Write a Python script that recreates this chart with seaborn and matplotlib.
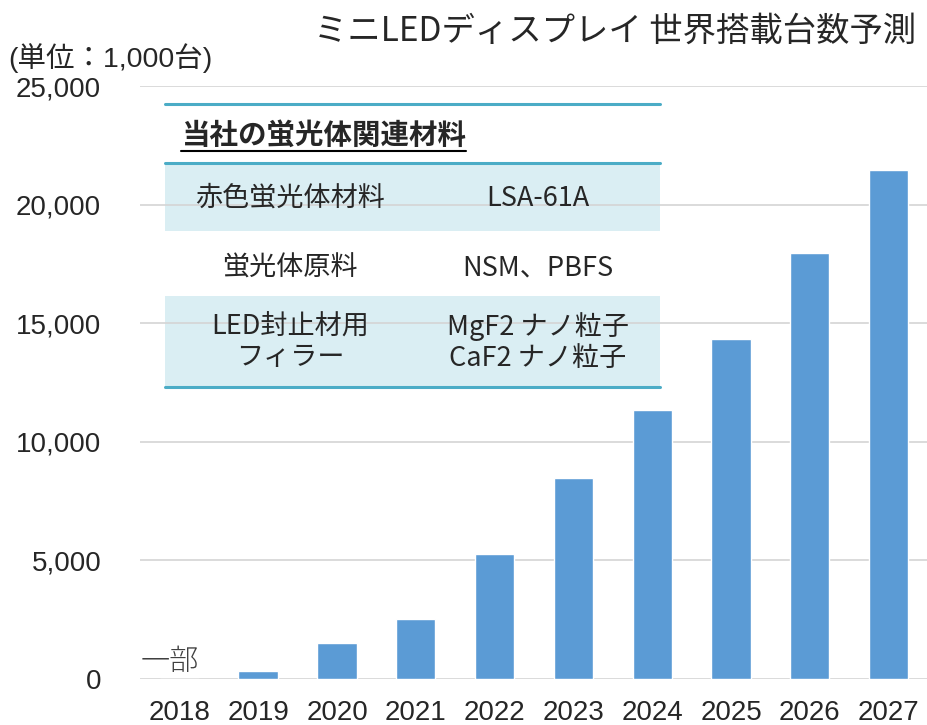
import matplotlib
matplotlib.use("Agg")
import matplotlib.pyplot as plt
from matplotlib.patches import Rectangle
import pandas as pd
import seaborn as sns

years = ["2018", "2019", "2020", "2021", "2022", "2023", "2024", "2025", "2026", "2027"]
units = [0, 350, 1500, 2530, 5270, 8470, 11340, 14330, 17950, 21450]
y_ticks = [0, 5000, 10000, 15000, 20000, 25000]

title = "ミニLEDディスプレイ 世界搭載台数予測"
unit_label = "(単位：1,000台)"
note_2018 = "一部"
table_header = "当社の蛍光体関連材料"
table_rows = [
    ("赤色蛍光体材料", "LSA-61A"),
    ("蛍光体原料", "NSM、PBFS"),
    ("LED封止材用\nフィラー", "MgF2 ナノ粒子\nCaF2 ナノ粒子"),
]

sns.set_theme(style="white")
plt.rcParams["font.family"] = ["Noto Sans CJK JP", "DejaVu Sans"]
num_font = ["Liberation Sans", "Noto Sans CJK JP"]

W, H = 928, 725
fig = plt.figure(figsize=(W / 100, H / 100), dpi=100)
ax = fig.add_axes([140 / W, 1 - 679 / H, 788 / W, 593 / H])
ax.patch.set_alpha(0)

df = pd.DataFrame({"year": years, "units": units})
sns.barplot(data=df, x="year", y="units", color="#5B9BD5", saturation=1,
            width=0.5, ax=ax, zorder=2)

ax.set_ylim(0, 25000)
ax.set_xlim(-0.5, len(years) - 0.5)
ax.set_yticks(y_ticks)
ax.set_yticklabels([f"{v:,}" for v in y_ticks], fontsize=20, family=num_font)
for lab in ax.get_xticklabels():
    lab.set_fontfamily(num_font)
    lab.set_fontsize(20)
ax.tick_params(axis="y", length=0, pad=28)
ax.tick_params(axis="x", length=0, pad=15)
ax.set_xlabel("")
ax.set_ylabel("")
ax.yaxis.grid(True, color="#D4D4D4", linewidth=1.2, zorder=0.5)
ax.set_axisbelow(True)
for s in ax.spines.values():
    s.set_visible(False)

ax.text(-0.12, 80, note_2018, fontsize=21, color="#404040",
        ha="center", va="bottom", fontweight="light", zorder=3)

# titles
fig.text(615 / W, 1 - 31 / H, title, fontsize=24, ha="center", va="center")
fig.text(8 / W, 1 - 58 / H, unit_label, fontsize=20.5, ha="left", va="center",
         family=num_font)


# table overlay, in pixel coordinates of the figure
def fx(px):
    return px / W


def fy(py):
    return 1 - py / H


tl, tr = 165, 660
for top, bot in [(163, 231), (296, 387)]:
    ax.add_patch(Rectangle((fx(tl), fy(bot)), fx(tr) - fx(tl), fy(top) - fy(bot),
                           transform=fig.transFigure, facecolor="#DAEEF3",
                           edgecolor="none", zorder=0.2, clip_on=False))
for py in [104, 163, 387]:
    ax.plot([fx(tl), fx(tr)], [fy(py), fy(py)], transform=fig.transFigure,
            color="#4BACC6", linewidth=2.2, zorder=3, clip_on=False)

fig.text(fx(182), fy(136), table_header, fontsize=20.5, fontweight="bold",
         ha="left", va="center", zorder=4)
fig.add_artist(plt.Line2D([fx(181), fx(466)], [fy(151), fy(151)],
                          color="black", linewidth=1.5))

row_y = [198, 268, 342]
for (left, right), py in zip(table_rows, row_y):
    fig.text(fx(290), fy(py), left, fontsize=19.5, ha="center", va="center",
             linespacing=1.15)
    fig.text(fx(538), fy(py), right, fontsize=19.5, ha="center", va="center",
             linespacing=1.15)

fig.savefig("out.png", dpi=100)
